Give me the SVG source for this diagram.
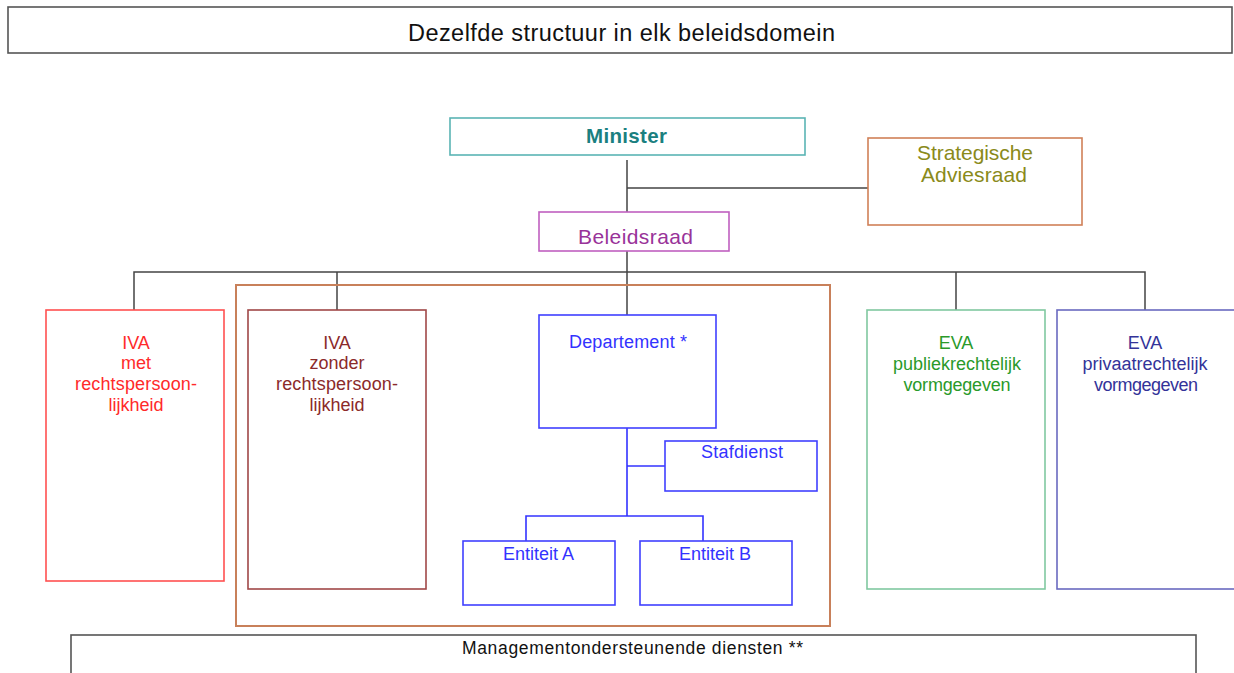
<svg xmlns="http://www.w3.org/2000/svg" width="1234" height="673" viewBox="0 0 1234 673">
<style>
text{font-family:"Liberation Sans",Arial,sans-serif;text-anchor:middle;}
.box{fill:#fff;stroke-width:1.6;}
.conn{stroke:#444;stroke-width:1.5;fill:none;}
.bl{stroke:#3333ff;stroke-width:1.6;fill:none;}
.s{font-size:18px;}
</style>
<rect width="1234" height="673" fill="#fff"/>
<g id="title">
<rect x="8" y="7" width="1224" height="46" fill="#fff" stroke="#555" stroke-width="1.6"/>
<text x="621.5" y="41" font-size="23.5" fill="#111" textLength="427" lengthAdjust="spacing">Dezelfde structuur in elk beleidsdomein</text>
</g>
<g id="connectors">
<path class="conn" d="M627 160V212M627 188H868M627 251V315M134 310V272H1145V310M337 272V310M956 272V310"/>
<path class="bl" d="M627 428V516M627 466H665M526 541V516H703V541"/>
</g>
<g id="group-frame">
<rect x="236" y="285" width="594" height="341" fill="none" stroke="#c8805a" stroke-width="2"/>
</g>
<g id="minister">
<rect class="box" x="450" y="118" width="355" height="37" stroke="#5ab4b4"/>
<text x="626.5" y="143" font-size="20.5" font-weight="bold" fill="#1a8080" textLength="81" lengthAdjust="spacing">Minister</text>
</g>
<g id="strategische-adviesraad">
<rect class="box" x="868" y="138" width="214" height="87" stroke="#d08058"/>
<text x="975" y="160" font-size="21" fill="#8a8a1a" textLength="116" lengthAdjust="spacing">Strategische</text>
<text x="974" y="182" font-size="21" fill="#8a8a1a" textLength="106" lengthAdjust="spacing">Adviesraad</text>
</g>
<g id="beleidsraad">
<rect class="box" x="539" y="212" width="190" height="39" stroke="#c060c0"/>
<text x="635.5" y="244" font-size="21" fill="#993399" textLength="115" lengthAdjust="spacing">Beleidsraad</text>
</g>
<g id="iva-met">
<rect class="box" x="46" y="310" width="178" height="271" stroke="#ff5050"/>
<g class="s" fill="#ff2a2a">
<text x="136" y="349">IVA</text>
<text x="136" y="369">met</text>
<text x="136" y="390" textLength="122" lengthAdjust="spacing">rechtspersoon-</text>
<text x="136" y="411">lijkheid</text>
</g>
</g>
<g id="iva-zonder">
<rect class="box" x="248" y="310" width="178" height="279" stroke="#a04848"/>
<g class="s" fill="#8b2a2a">
<text x="337" y="349">IVA</text>
<text x="337" y="369">zonder</text>
<text x="337" y="390" textLength="122" lengthAdjust="spacing">rechtspersoon-</text>
<text x="337" y="411">lijkheid</text>
</g>
</g>
<g id="departement">
<rect class="box" x="539" y="315" width="177" height="113" stroke="#4040ff"/>
<text class="s" x="628" y="348" fill="#3333ff" textLength="118" lengthAdjust="spacing">Departement *</text>
</g>
<g id="stafdienst">
<rect class="box" x="665" y="441" width="152" height="50" stroke="#4040ff"/>
<text class="s" x="742" y="458" fill="#3333ff" textLength="82" lengthAdjust="spacing">Stafdienst</text>
</g>
<g id="entiteit-a">
<rect class="box" x="463" y="541" width="152" height="64" stroke="#4040ff"/>
<text class="s" x="538.5" y="560" fill="#3333ff" textLength="71" lengthAdjust="spacing">Entiteit A</text>
</g>
<g id="entiteit-b">
<rect class="box" x="640" y="541" width="152" height="64" stroke="#4040ff"/>
<text class="s" x="715" y="560" fill="#3333ff" textLength="72" lengthAdjust="spacing">Entiteit B</text>
</g>
<g id="eva-publiek">
<rect class="box" x="867" y="310" width="178" height="279" stroke="#80c8a0"/>
<g class="s" fill="#2a9a2a">
<text x="956" y="349">EVA</text>
<text x="957" y="370" textLength="128" lengthAdjust="spacing">publiekrechtelijk</text>
<text x="957" y="391" textLength="107" lengthAdjust="spacing">vormgegeven</text>
</g>
</g>
<g id="eva-privaat">
<rect class="box" x="1057" y="310" width="180" height="279" stroke="#6a6ac0"/>
<g class="s" fill="#333399">
<text x="1145" y="349">EVA</text>
<text x="1145" y="370" textLength="125" lengthAdjust="spacing">privaatrechtelijk</text>
<text x="1146" y="391" textLength="104" lengthAdjust="spacing">vormgegeven</text>
</g>
</g>
<g id="management">
<rect class="box" x="71" y="635" width="1125" height="45" stroke="#555"/>
<text x="632.5" y="654" font-size="17.5" fill="#111" textLength="341" lengthAdjust="spacing">Managementondersteunende  diensten **</text>
</g>
</svg>
